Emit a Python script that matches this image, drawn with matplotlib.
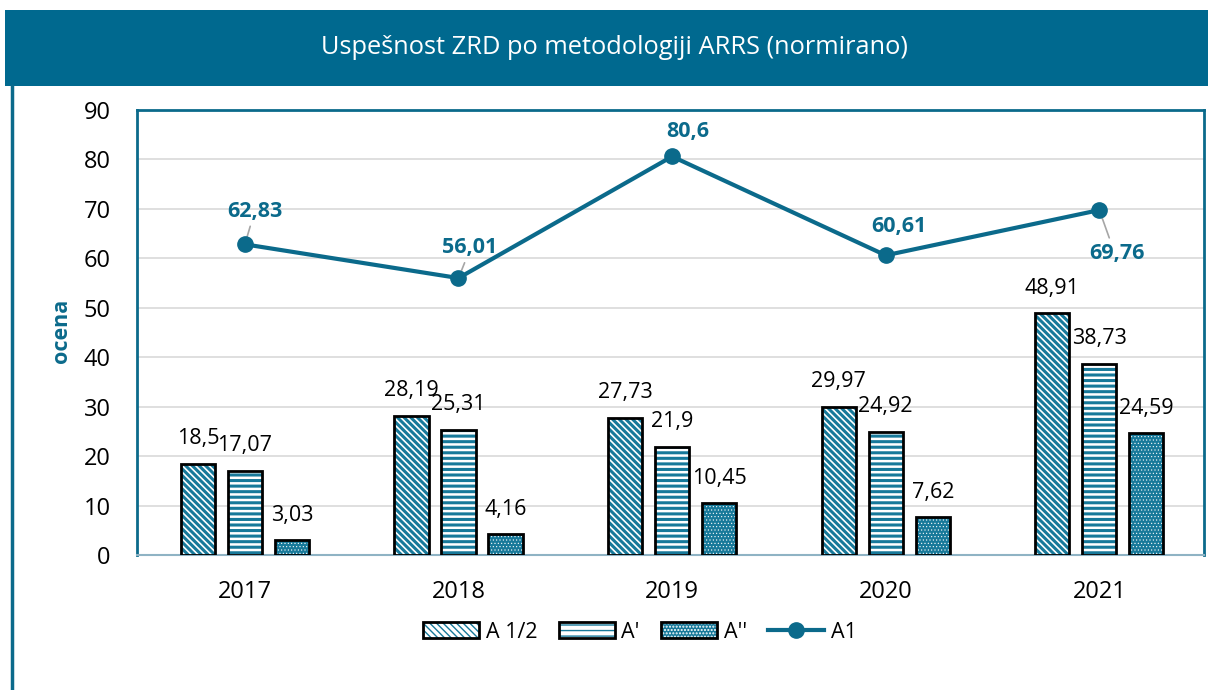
import matplotlib
matplotlib.use("Agg")
import matplotlib.pyplot as plt
import numpy as np
from matplotlib.patches import Rectangle
from matplotlib.lines import Line2D

plt.rcParams['font.family'] = ['Open Sans', 'DejaVu Sans']

# ---- data ----
years = ['2017', '2018', '2019', '2020', '2021']
a_half = [18.5, 28.19, 27.73, 29.97, 48.91]
a_prime = [17.07, 25.31, 21.9, 24.92, 38.73]
a_dprime = [3.03, 4.16, 10.45, 7.62, 24.59]
a1 = [62.83, 56.01, 80.6, 60.61, 69.76]
series_names = ['A 1/2', "A'", "A''", 'A1']
title = 'Uspešnost ZRD po metodologiji ARRS (normirano)'
ylabel = 'ocena'

# ---- style ----
TEAL = '#0B6A8B'
BAR_TEAL = '#17799A'
W, H = 1208, 690
fig = plt.figure(figsize=(W / 100, H / 100), dpi=100)

# title band and frame
fig.patches.append(Rectangle((5 / W, 1 - 86 / H), 1 - 5 / W, 76 / H,
                             transform=fig.transFigure, facecolor='#00698F',
                             edgecolor='none', zorder=0))
fig.lines.append(Line2D([11.5 / W, 11.5 / W], [0, 1 - 86 / H],
                        transform=fig.transFigure, color=TEAL, lw=2.5))
fig.text(0.5 + 10 / W, 1 - 48 / H, title, color='white', fontsize=18.3,
         ha='center', va='center')

ax = fig.add_axes([137 / W, 1 - 555 / H, (1204 - 137) / W, (555 - 110) / H])
x = np.arange(len(years))
bw = 0.16
off = 0.22

bar_specs = [
    (a_half, -off, 'white', BAR_TEAL, '\\\\\\\\\\', 2.2),
    (a_prime, 0.0, 'white', BAR_TEAL, '---', 2.2),
    (a_dprime, off, BAR_TEAL, 'white', '.....', 0.4),
]
handles = []
for vals, dx, face, hcol, hatch, hlw in bar_specs:
    hb = ax.bar(x + dx, vals, bw, color=face, edgecolor=hcol, hatch=hatch,
                linewidth=0, zorder=3)
    for p in hb:
        if hasattr(p, 'set_hatch_linewidth'):
            p.set_hatch_linewidth(hlw)
    ob = ax.bar(x + dx, vals, bw, fill=False, edgecolor='black',
                linewidth=2.0, zorder=4)
    for xi, v in zip(x + dx, vals):
        ax.annotate(f'{v:g}'.replace('.', ','), (xi, v), xytext=(0, 18),
                    textcoords='offset points', ha='center', va='center',
                    fontsize=15.5, color='black', zorder=6)
    handles.append((hb[0], ob[0]))

ln, = ax.plot(x, a1, color=TEAL, lw=3, marker='o', markersize=11, zorder=5)
handles.append(ln)

line_offsets = [(7, 24), (8, 22), (11.5, 18), (9.5, 21), (13, -31)]
leader = [True, True, False, False, True]
for xi, v, (dx, dy), ld in zip(x, a1, line_offsets, leader):
    ax.annotate(f'{v:g}'.replace('.', ','), (xi, v), xytext=(dx, dy),
                textcoords='offset points', ha='center', va='center',
                fontsize=15.5, fontweight='bold', color=TEAL, zorder=6)
    if ld:
        sgn = 1 if dy > 0 else -1
        ax.annotate('', (xi, v), xytext=(dx * 0.55, dy - sgn * 11),
                    textcoords='offset points',
                    arrowprops=dict(arrowstyle='-', color='#A6A6A6', lw=1.2,
                                    shrinkA=0, shrinkB=3), zorder=4)

ax.set_xlim(-0.505, 4.49)
ax.set_ylim(0, 90)
ax.set_yticks(np.arange(0, 91, 10))
ax.set_xticks(x)
ax.set_xticklabels(years)
ax.tick_params(axis='both', length=0, labelsize=17, colors='black')
ax.tick_params(axis='x', pad=18)
ax.tick_params(axis='y', pad=19)
ax.grid(axis='y', color='#D9D9D9', lw=1.2, zorder=0)
ax.set_axisbelow(True)
for s in ['left', 'top', 'right']:
    ax.spines[s].set_color(TEAL)
    ax.spines[s].set_linewidth(2)
ax.spines['bottom'].set_color('#8FB3C4')
ax.spines['bottom'].set_linewidth(1.5)

fig.text(62 / W, 1 - 331 / H, ylabel, rotation=90, color=TEAL,
         fontsize=15.5, fontweight='bold', ha='center', va='center')

fig.legend(handles, series_names, loc='center', bbox_to_anchor=(640 / W, 1 - 632 / H),
           ncol=4, frameon=False, fontsize=15.5, handlelength=2.6,
           handleheight=0.7, handletextpad=0.3, columnspacing=1.0)

fig.savefig('out.png', dpi=100)
